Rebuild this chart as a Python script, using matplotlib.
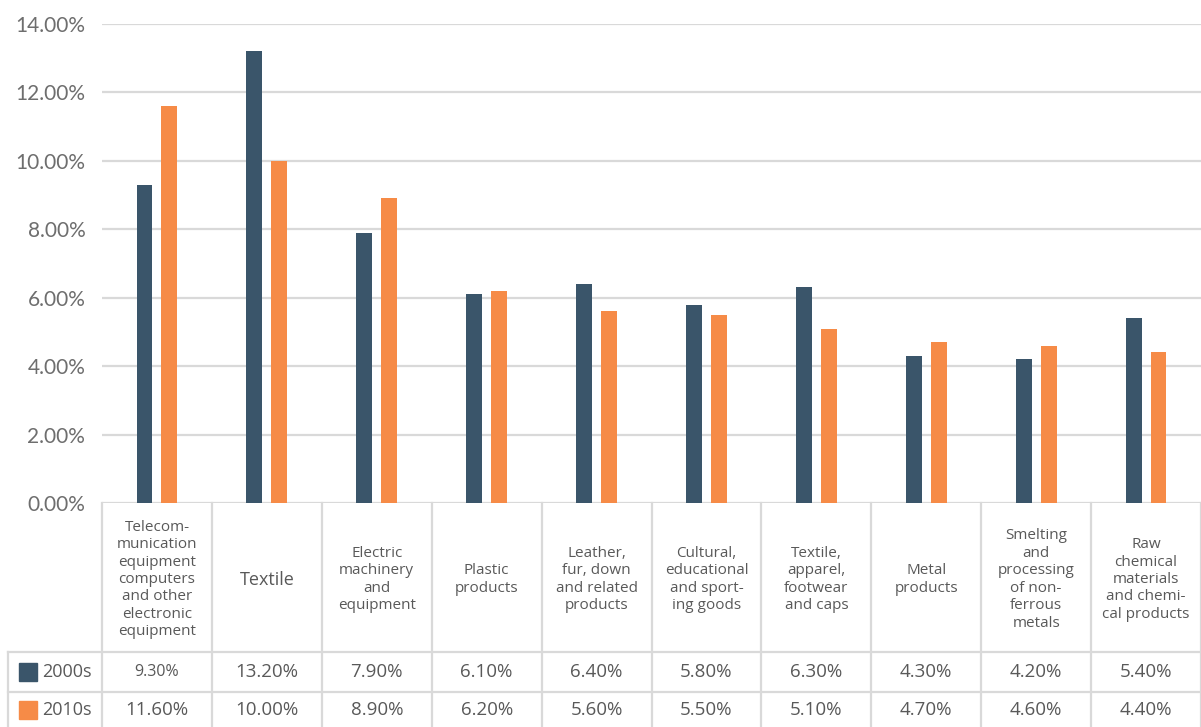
import matplotlib
matplotlib.use("Agg")
from matplotlib import pyplot as plt
from matplotlib.patches import Rectangle
import numpy as np

categories = [
    "Telecom-\nmunication\nequipment\ncomputers\nand other\nelectronic\nequipment",
    "Textile",
    "Electric\nmachinery\nand\nequipment",
    "Plastic\nproducts",
    "Leather,\nfur, down\nand related\nproducts",
    "Cultural,\neducational\nand sport-\ning goods",
    "Textile,\napparel,\nfootwear\nand caps",
    "Metal\nproducts",
    "Smelting\nand\nprocessing\nof non-\nferrous\nmetals",
    "Raw\nchemical\nmaterials\nand chemi-\ncal products",
]
series_names = ["2000s", "2010s"]
share_2000s = [9.30, 13.20, 7.90, 6.10, 6.40, 5.80, 6.30, 4.30, 4.20, 5.40]
share_2010s = [11.60, 10.00, 8.90, 6.20, 5.60, 5.50, 5.10, 4.70, 4.60, 4.40]
y_ticks = [0, 2, 4, 6, 8, 10, 12, 14]

DARK = "#3a556a"
ORANGE = "#f68b47"
GRID = "#d9d9d9"
TEXT = "#595959"

W, H = 1201, 727
fig = plt.figure(figsize=(W / 100, H / 100), dpi=100)

# pixel layout of the plot area
left, right = 102, 1201
top, base = 24, 503
ax = fig.add_axes([left / W, (H - base) / H, (right - left) / W, (base - top) / H])

n = len(categories)
x = np.arange(n)
bw = 0.145
gap = 0.082
ax.bar(x - (bw + gap) / 2, share_2000s, bw, color=DARK, zorder=3)
ax.bar(x + (bw + gap) / 2, share_2010s, bw, color=ORANGE, zorder=3)

ax.set_xlim(-0.5, n - 0.5)
ax.set_ylim(0, 14)
ax.set_yticks(y_ticks)
ax.set_yticklabels([f"{t:.2f}%" for t in y_ticks], fontsize=15, color="#6e6e6e",
                   family=["Lato", "DejaVu Sans"])
ax.set_xticks([])
ax.tick_params(axis="y", length=0, pad=12)
ax.grid(axis="y", color=GRID, linewidth=1.6, zorder=0)
for s in ax.spines.values():
    s.set_visible(False)

# data table under the bars, drawn in pixel coordinates
tax = fig.add_axes([0, 0, 1, (H - base) / H])
tax.set_xlim(0, W)
tax.set_ylim(H, base)
tax.axis("off")

col_w = (right - left) / n
edges = [left + i * col_w for i in range(n + 1)]
row1, row2, row3 = 652, 692, 732
tab_font = ["Open Sans", "DejaVu Sans"]
lw = 1.6

for xe in edges:
    tax.plot([xe, xe], [base, H + 5], color=GRID, lw=lw, clip_on=False)
tax.plot([8, 8], [row1, H + 5], color=GRID, lw=lw, clip_on=False)
for yr in (row1, row2, row3):
    tax.plot([8, W], [yr, yr], color=GRID, lw=lw, clip_on=False)

for i, name in enumerate(categories):
    cx = left + (i + 0.5) * col_w
    fs = 13 if name == "Textile" else 11
    tax.text(cx, (base + row1) / 2 + 2, name, ha="center", va="center",
             fontsize=fs, color=TEXT, family=tab_font, linespacing=1.22)

for r, (vals, name, col) in enumerate(zip([share_2000s, share_2010s], series_names,
                                          [DARK, ORANGE])):
    yc = [(row1 + row2) / 2, (row2 + row3) / 2 - 2][r]
    tax.add_patch(Rectangle((19, yc - 9), 18, 18, color=col, clip_on=False))
    tax.text(42, yc, name, ha="left", va="center", fontsize=13, color=TEXT,
             family=tab_font)
    for i, v in enumerate(vals):
        cx = left + (i + 0.5) * col_w
        fs = 11.5 if (r == 0 and i == 0) else 13.5
        tax.text(cx, yc, f"{v:.2f}%", ha="center", va="center", fontsize=fs,
                 color=TEXT, family=tab_font)

fig.savefig("out.png", dpi=100)
